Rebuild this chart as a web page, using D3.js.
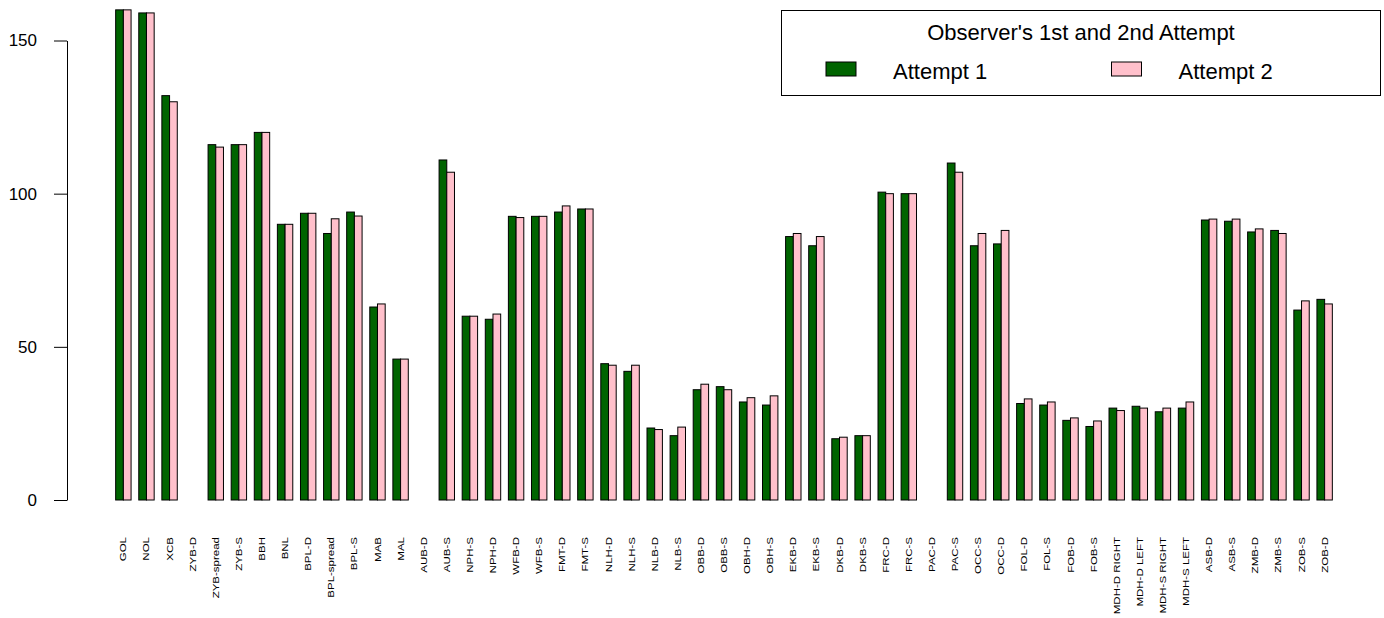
<!DOCTYPE html>
<html>
<head>
<meta charset="utf-8">
<script src="https://cdn.jsdelivr.net/npm/d3@7"></script>
<style>
  html, body { margin: 0; padding: 0; background: #fff; }
  svg { display: block; font-family: Arial, "Liberation Sans", sans-serif; }
</style>
</head>
<body>
<svg id="chart" width="1384" height="618"></svg>
<script>
// Craniometric measurements, two observer attempts
const categories = ["GOL", "NOL", "XCB", "ZYB-D", "ZYB-spread", "ZYB-S", "BBH", "BNL", "BPL-D", "BPL-spread",
  "BPL-S", "MAB", "MAL", "AUB-D", "AUB-S", "NPH-S", "NPH-D", "WFB-D", "WFB-S", "FMT-D",
  "FMT-S", "NLH-D", "NLH-S", "NLB-D", "NLB-S", "OBB-D", "OBB-S", "OBH-D", "OBH-S", "EKB-D",
  "EKB-S", "DKB-D", "DKB-S", "FRC-D", "FRC-S", "PAC-D", "PAC-S", "OCC-S", "OCC-D", "FOL-D",
  "FOL-S", "FOB-D", "FOB-S", "MDH-D RIGHT", "MDH-D LEFT", "MDH-S RIGHT", "MDH-S LEFT", "ASB-D", "ASB-S", "ZMB-D",
  "ZMB-S", "ZOB-S", "ZOB-D"];

const attempt1 = [160, 159, 132, null, 116, 116, 120, 90, 93.6, 87,
  94, 63, 46, null, 111, 60, 59, 92.6, 92.6, 94,
  95, 44.5, 42, 23.5, 21, 36, 37, 32, 31, 86,
  83, 20, 21, 100.5, 100, null, 110, 83, 83.6, 31.5,
  31, 26, 24, 30, 30.6, 28.8, 30, 91.4, 91, 87.5,
  88, 62, 65.5];

const attempt2 = [160, 159, 130, null, 115.2, 116, 120, 90, 93.6, 91.8,
  92.7, 64, 46, null, 107, 60, 60.7, 92.2, 92.6, 96,
  95, 44, 44, 23, 23.8, 37.8, 36, 33.4, 34, 87,
  86, 20.5, 21, 100, 100, null, 107, 87, 88, 33,
  32, 26.8, 25.8, 29.2, 30, 30, 32, 91.7, 91.7, 88.5,
  87, 65, 64];

const seriesNames = ["Attempt 1", "Attempt 2"];
const seriesColors = ["#006400", "#FFC0CB"];
const yTicks = [0, 50, 100, 150];
const legendTitle = "Observer's 1st and 2nd Attempt";

const svg = d3.select("#chart");

// Bar-unit scale: each group = 2 bars + 1 unit gap, first bar starts at unit 1
const nGroups = categories.length;
const uMax = nGroups * 3;
const pad = (uMax - 1) * 0.04;
const x = d3.scaleLinear().domain([1 - pad, uMax + pad]).range([67, 1381]);
const y = d3.scaleLinear().domain([0, 150]).range([500, 40.5]);

// Bars
const series = [attempt1, attempt2];
const bars = [];
categories.forEach((c, i) => {
  series.forEach((vals, s) => {
    if (vals[i] != null) bars.push({ i, s, v: vals[i] });
  });
});

svg.append("g")
  .selectAll("rect")
  .data(bars)
  .join("rect")
  .attr("x", d => x(3 * d.i + 1 + d.s))
  .attr("width", d => x(3 * d.i + 2 + d.s) - x(3 * d.i + 1 + d.s))
  .attr("y", d => y(d.v))
  .attr("height", d => y(0) - y(d.v))
  .attr("fill", d => seriesColors[d.s])
  .attr("stroke", "#000")
  .attr("stroke-width", 1);

// Y axis
const yAxis = d3.axisLeft(y)
  .tickValues(yTicks)
  .tickSizeInner(13)
  .tickSizeOuter(0)
  .tickPadding(17)
  .tickFormat(d3.format("d"));

const gy = svg.append("g")
  .attr("transform", `translate(${x(1 - pad)},0)`)
  .call(yAxis);
gy.selectAll("path, line").attr("stroke", "#000").attr("stroke-width", 1);
gy.selectAll("text")
  .attr("fill", "#000")
  .style("font-size", "17px")
  .style("font-family", "Arial, 'Liberation Sans', sans-serif");

// Category labels, vertical
svg.append("g")
  .selectAll("text")
  .data(categories)
  .join("text")
  .attr("transform", (d, i) => `translate(${x(3 * i + 2)},537) rotate(-90) scale(1,0.75)`)
  .attr("text-anchor", "end")
  .attr("dy", "0.35em")
  .attr("fill", "#000")
  .style("font-size", "11.5px")
  .text(d => d);

// Legend
const lg = svg.append("g");
lg.append("rect")
  .attr("x", 781.5).attr("y", 10.5)
  .attr("width", 599).attr("height", 85)
  .attr("fill", "#fff")
  .attr("stroke", "#000")
  .attr("stroke-width", 1);
lg.append("text")
  .attr("x", 1081).attr("y", 40)
  .attr("text-anchor", "middle")
  .style("font-size", "22px")
  .attr("fill", "#000")
  .text(legendTitle);

const items = lg.selectAll("g.item")
  .data(seriesNames)
  .join("g")
  .attr("class", "item")
  .attr("transform", (d, i) => `translate(${826 + i * 285.5},0)`);
items.append("rect")
  .attr("x", 0).attr("y", 62)
  .attr("width", 30).attr("height", 14)
  .attr("fill", (d, i) => seriesColors[i])
  .attr("stroke", "#000")
  .attr("stroke-width", 1);
items.append("text")
  .attr("x", 67).attr("y", 79)
  .style("font-size", "22px")
  .attr("fill", "#000")
  .text(d => d);
</script>
</body>
</html>
